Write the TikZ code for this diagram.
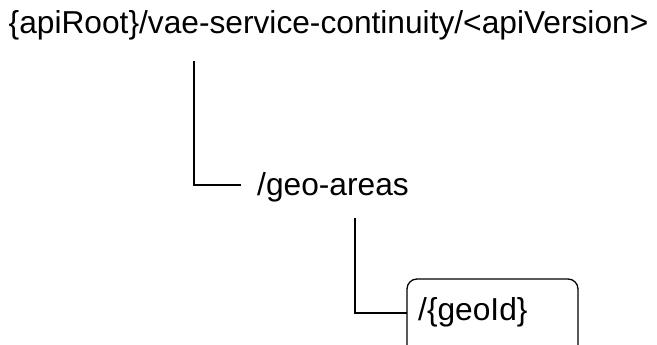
\documentclass[tikz,border=0pt]{standalone}
\usepackage{fontspec}
\setmainfont{Liberation Sans}
\begin{document}
\begin{tikzpicture}[x=1pt,y=-1pt,
  lbl/.style={anchor=base west,inner sep=0pt,font=\fontsize{31.7}{38}\selectfont},
  conn/.style={line width=1.3pt},
  boxline/.style={line width=1.3pt,rounded corners=10pt}]
\useasboundingbox (0,0) rectangle (657,345);
\clip (0,0) rectangle (657,345);
\node[lbl] (root) at (8.5,34) {\{apiRoot\}/vae-service-continuity/<apiVersion>};
\node[lbl] (geo) at (257,196) {/geo-areas};
\node[lbl] (geoid) at (418,320) {/\{geoId\}};
\draw[boxline] (407,370) rectangle (578,279);
\coordinate (r1) at (194,61);
\coordinate (g1) at (241,185);
\coordinate (g2) at (355,218);
\coordinate (b1) at (407,313);
\draw[conn] (r1) |- (g1);
\draw[conn] (g2) |- (b1);
\end{tikzpicture}
\end{document}
